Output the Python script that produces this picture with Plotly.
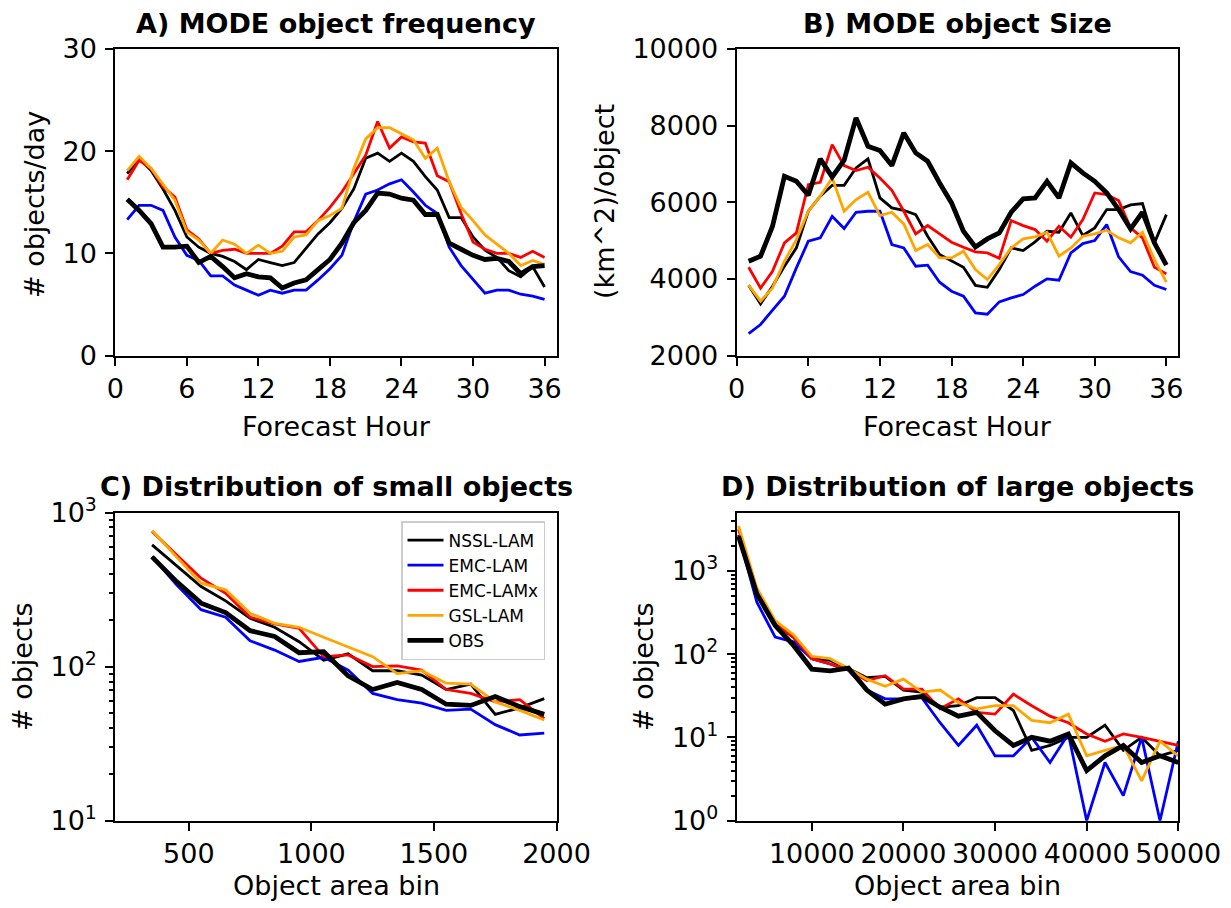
import plotly.graph_objects as go
import math

W, H = 1231, 908

# ---------------- data ----------------
names = ["NSSL-LAM", "EMC-LAM", "EMC-LAMx", "GSL-LAM", "OBS"]
colors = ["black", "blue", "red", "orange", "black"]
widths = [2.8, 2.8, 2.8, 2.8, 4.8]

hours = list(range(1, 37))

freq_nssl = [17.8, 19.3, 18.1, 16.3, 14.2, 11.6, 10.6, 10.0, 9.7, 9.2, 8.4, 9.4,
             9.1, 8.8, 9.1, 10.5, 11.9, 13.0, 14.4, 16.3, 19.3, 19.8, 19.0, 19.8,
             19.0, 17.5, 16.2, 13.5, 13.5, 11.6, 10.3, 9.6, 8.3, 7.7, 8.7, 6.7]
freq_emc = [13.3, 14.7, 14.7, 14.2, 11.6, 9.8, 9.3, 7.8, 7.8, 6.9, 6.4, 5.9,
            6.4, 6.1, 6.4, 6.4, 7.4, 8.5, 9.8, 13.1, 15.8, 16.2, 16.8, 17.2,
            16.0, 14.7, 13.9, 10.6, 8.8, 7.5, 6.1, 6.4, 6.4, 6.0, 5.8, 5.5]
freq_emcx = [17.2, 19.1, 18.3, 16.5, 15.5, 12.3, 11.4, 10.0, 10.3, 10.4, 10.0, 10.0,
             10.0, 10.7, 12.1, 12.1, 13.2, 14.5, 16.0, 17.8, 19.6, 22.9, 20.3, 21.4,
             20.9, 20.8, 17.6, 17.0, 13.9, 11.1, 10.4, 10.0, 10.0, 9.6, 10.2, 9.6]
freq_gsl = [18.1, 19.5, 18.3, 16.8, 15.2, 12.1, 11.3, 10.0, 11.3, 10.9, 10.0, 10.8,
            10.0, 10.2, 11.6, 11.8, 13.2, 13.7, 14.4, 18.3, 21.2, 22.3, 22.3, 21.7,
            21.1, 19.3, 20.3, 17.0, 14.5, 13.2, 11.8, 10.9, 10.0, 8.8, 9.3, 8.9]
freq_obs = [15.3, 14.2, 12.9, 10.6, 10.6, 10.7, 9.1, 9.7, 8.7, 7.6, 8.0, 7.7,
            7.6, 6.6, 7.1, 7.4, 8.4, 9.4, 11.0, 13.0, 14.2, 15.9, 15.8, 15.4,
            15.2, 13.8, 13.8, 11.0, 10.4, 9.8, 9.4, 9.5, 9.2, 8.0, 8.7, 8.8]

size_nssl = [3835, 3348, 3809, 4330, 4809, 5765, 6157, 6443, 6443, 6896, 7131, 6113,
             5852, 5791, 5678, 5113, 4635, 4461, 4304, 3830, 3780, 4243, 4809, 4739,
             4965, 5243, 5217, 5722, 5131, 5331, 5809, 5809, 5930, 5965, 4939, 5678]
size_emc = [2574, 2809, 3183, 3548, 4287, 4983, 5070, 5635, 5313, 5739, 5765, 5765,
            4896, 4809, 4330, 4357, 3913, 3678, 3548, 3113, 3078, 3400, 3504, 3591,
            3809, 4000, 3965, 4678, 4922, 5000, 5417, 4574, 4191, 4096, 3835, 3722]
size_emcx = [4304, 3757, 4200, 4939, 5200, 6461, 6522, 7504, 6957, 6826, 6913, 6635,
             6313, 5765, 5174, 5391, 5174, 4957, 4826, 4704, 4678, 4539, 5522, 5391,
             5287, 4983, 5374, 5087, 5548, 6243, 6200, 6043, 5331, 5070, 4304, 4130]
size_gsl = [3835, 3417, 3765, 4461, 5026, 5765, 6157, 6635, 5765, 6070, 6261, 5652,
            5739, 5435, 4739, 4896, 4548, 4548, 4722, 4243, 3983, 4374, 4809, 5043,
            5096, 5217, 4591, 4809, 5113, 5174, 5270, 5070, 4939, 5217, 4504, 3913]
size_obs = [4461, 4591, 5374, 6678, 6548, 6183, 7131, 6661, 7096, 8200, 7461, 7348,
            6957, 7809, 7287, 7070, 6504, 5983, 5243, 4835, 5043, 5200, 5739, 6087,
            6113, 6548, 6113, 7026, 6765, 6548, 6243, 5809, 5304, 5739, 4939, 4357]

small_bins = [350, 450, 550, 650, 750, 850, 950, 1050, 1150, 1250, 1350, 1450,
              1550, 1650, 1750, 1850, 1950]
small_nssl = [617, 451, 331, 267, 206, 180, 145, 110, 121, 94, 94, 88, 71, 77, 49, 54, 62]
small_emc = [518, 339, 234, 209, 147, 128, 108, 115, 95, 67, 61, 58, 52, 53, 42, 36, 37]
small_emcx = [753, 531, 375, 299, 209, 189, 177, 116, 119, 100, 101, 95, 71, 67, 59, 61, 46]
small_gsl = [764, 513, 348, 315, 222, 191, 180, 155, 134, 116, 90, 94, 78, 77, 59, 52, 45]
small_obs = [515, 356, 258, 224, 171, 157, 123, 125, 87, 71, 79, 71, 57, 56, 64, 55, 49]

large_bins = list(range(2000, 50001, 2000))
large_nssl = [2500, 576, 230, 159, 88, 84, 67, 52, 54, 37, 35, 23, 24, 30, 30, 21,
              7, 8, 10, 10, 14, 7, 10, 6, 7]
large_emc = [2700, 420, 160, 140, 88, 76, 64, 37, 29, 29, 30, 15, 8, 14, 6, 6,
             10, 5, 11, 1, 5, 2, 10, 1, 9]
large_emcx = [3150, 580, 230, 160, 88, 76, 64, 48, 55, 38, 38, 22, 29, 20, 19, 33,
              24, 18, 15, 11, 9, 11, 10, 9, 8]
large_gsl = [3450, 620, 252, 171, 94, 88, 67, 50, 41, 50, 35, 37, 26, 22, 24, 24,
             16, 15, 19, 6, 7, 8, 3, 9, 6]
large_obs = [2600, 525, 220, 127, 66, 63, 68, 37, 25, 29, 31, 23, 18, 20, 12, 8,
             10, 9, 11, 4, 6, 8, 5, 6, 5]

freq_series = [freq_nssl, freq_emc, freq_emcx, freq_gsl, freq_obs]
size_series = [size_nssl, size_emc, size_emcx, size_gsl, size_obs]
small_series = [small_nssl, small_emc, small_emcx, small_gsl, small_obs]
large_series = [large_nssl, large_emc, large_emcx, large_gsl, large_obs]

# ---------------- helpers ----------------
def px(x):
    return x / W


def py(y):
    return 1 - y / H


FONT = "DejaVu Sans"

fig = go.Figure()

panels = [
    ("x", "y", hours, freq_series, False),
    ("x2", "y2", hours, size_series, False),
    ("x3", "y3", small_bins, small_series, True),
    ("x4", "y4", large_bins, large_series, False),
]
for xa, ya, xs, series, show in panels:
    for name, col, wd, ys in zip(names, colors, widths, series):
        fig.add_trace(go.Scatter(
            x=xs, y=ys, mode="lines", name=name,
            line=dict(color=col, width=wd),
            xaxis=xa, yaxis=ya, showlegend=show, hoverinfo="skip"))

base = dict(showline=True, linecolor="black", linewidth=2, mirror=True,
            ticks="outside", ticklen=8, tickwidth=2, tickcolor="black",
            showgrid=False, zeroline=False, tickangle=0, automargin=False,
            tickfont=dict(family=FONT, size=27, color="black"))
ybase = dict(base, ticklabelstandoff=3)

colL = [px(115.3), px(556.5)]
colR = [px(736.7), px(1178.3)]
rowT = [py(355.5), py(49)]
rowB = [py(820.7), py(512.5)]


def minor_vals(lo_exp, hi_val):
    out = []
    for e in range(lo_exp, 5):
        for m in range(2, 10):
            v = m * 10 ** e
            if v < hi_val:
                out.append(v)
    return out


layout = dict(
    width=W, height=H,
    margin=dict(l=0, r=0, t=0, b=0, pad=0, autoexpand=False),
    paper_bgcolor="white", plot_bgcolor="white",
    font=dict(family=FONT, color="black"),
    xaxis=dict(base, domain=colL, anchor="y", range=[0, 37],
               tickvals=[0, 6, 12, 18, 24, 30, 36]),
    yaxis=dict(ybase, domain=rowT, anchor="x", range=[0, 30],
               tickvals=[0, 10, 20, 30]),
    xaxis2=dict(base, domain=colR, anchor="y2", range=[0, 37],
                tickvals=[0, 6, 12, 18, 24, 30, 36]),
    yaxis2=dict(ybase, domain=rowT, anchor="x2", range=[2000, 10000],
                tickvals=[2000, 4000, 6000, 8000, 10000], tickformat="d"),
    xaxis3=dict(base, domain=colL, anchor="y3", range=[200, 2000],
                tickvals=[500, 1000, 1500, 2000], tickformat="d"),
    yaxis3=dict(ybase, domain=rowB, anchor="x3", type="log", range=[1, 3],
                tickvals=[10, 100, 1000],
                ticktext=["10<sup>1</sup>", "10<sup>2</sup>", "10<sup>3</sup>"],
                minor=dict(ticks="outside", ticklen=4, tickwidth=1.5,
                           tickcolor="black", tickvals=minor_vals(1, 1000))),
    xaxis4=dict(base, domain=colR, anchor="y4", range=[1800, 50000],
                tickvals=[10000, 20000, 30000, 40000, 50000], tickformat="d"),
    yaxis4=dict(ybase, domain=rowB, anchor="x4", type="log",
                range=[0, math.log10(5000)],
                tickvals=[1, 10, 100, 1000],
                ticktext=["10<sup>0</sup>", "10<sup>1</sup>", "10<sup>2</sup>", "10<sup>3</sup>"],
                minor=dict(ticks="outside", ticklen=4, tickwidth=1.5,
                           tickcolor="black", tickvals=minor_vals(0, 5000))),
    legend=dict(x=px(401), y=py(521), xanchor="left", yanchor="top",
                bgcolor="rgba(255,255,255,0.85)", bordercolor="#cccccc",
                borderwidth=1.5, font=dict(family=FONT, size=17, color="black"),
                itemwidth=36, tracegroupgap=0),
    showlegend=True,
)
fig.update_layout(**layout)

annos = [
    ("<b>A) MODE object frequency</b>", 336, 23, 0),
    ("<b>B) MODE object Size</b>", 957, 23, 0),
    ("<b>C) Distribution of small objects</b>", 336, 486, 0),
    ("<b>D) Distribution of large objects</b>", 957, 486, 0),
    ("Forecast Hour", 336, 427, 0),
    ("Forecast Hour", 957, 427, 0),
    ("Object area bin", 336, 885, 0),
    ("Object area bin", 957, 885, 0),
    ("# objects/day", 34, 205, -90),
    ("(km^2)/object", 604, 202, -90),
    ("# objects", 22, 667, -90),
    ("# objects", 643, 667, -90),
]
for text, x, y, ang in annos:
    fig.add_annotation(text=text, x=px(x), y=py(y), xref="paper", yref="paper",
                       xanchor="center", yanchor="middle", showarrow=False,
                       textangle=ang,
                       font=dict(family=FONT, size=27, color="black"))

fig.write_html("out.html")
